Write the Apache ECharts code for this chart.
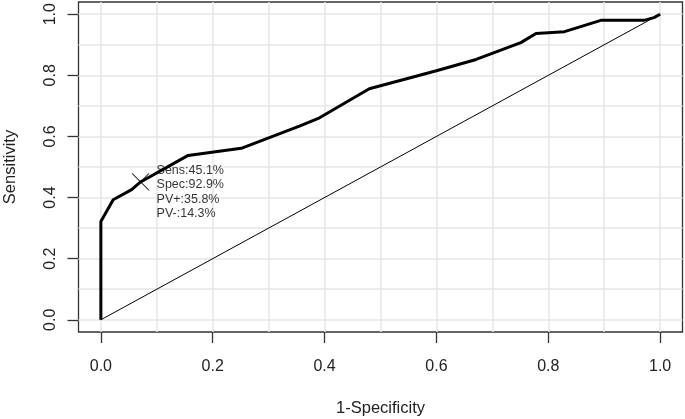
<!DOCTYPE html>
<html>
<head>
<meta charset="utf-8">
<script src="https://cdn.jsdelivr.net/npm/echarts@6/dist/echarts.min.js"></script>
<style>html,body{margin:0;padding:0;background:#fff}#c{width:685px;height:419px}</style>
</head>
<body>
<div id="c"></div>
<script>
// ROC curve points [1-Specificity, Sensitivity]
const rocFpr  = [0, 0, 0.022, 0.055, 0.071, 0.156, 0.251, 0.355, 0.391, 0.480, 0.600, 0.671, 0.751, 0.778, 0.829, 0.894, 0.971, 0.989, 1.0];
const rocSens = [0, 0.322, 0.393, 0.426, 0.451, 0.538, 0.561, 0.634, 0.661, 0.756, 0.815, 0.852, 0.907, 0.937, 0.943, 0.980, 0.980, 0.989, 1.0];
const diagX = [0, 1];
const diagY = [0, 1];
const cutoff = [0.071, 0.451];
const cutoffText = ['Sens:45.1%', 'Spec:92.9%', 'PV+:35.8%', 'PV-:14.3%'];
const tickValues = [0, 0.2, 0.4, 0.6, 0.8, 1.0];
const gridValues = [0, 0.1, 0.2, 0.3, 0.4, 0.5, 0.6, 0.7, 0.8, 0.9, 1.0];
const xTitle = '1-Specificity';
const yTitle = 'Sensitivity';

const font = 'Liberation Sans, Arial, Helvetica, sans-serif';
const axisCommon = {
  type: 'value', min: -0.04, max: 1.04,
  axisLine: { show: false, onZero: false },
  axisTick: { show: true, inside: false, length: 11, customValues: tickValues,
              lineStyle: { color: '#333', width: 1.3 } },
  axisLabel: { customValues: tickValues, formatter: v => v.toFixed(1),
               color: '#222', fontSize: 16, fontFamily: font },
  splitLine: { show: false },
  nameLocation: 'middle',
  nameTextStyle: { color: '#222', fontSize: 16.5, fontFamily: font }
};

const chart = echarts.init(document.getElementById('c'), null, { renderer: 'canvas' });
chart.setOption({
  animation: false,
  backgroundColor: '#fff',
  grid: { left: 78.5, right: 2.5, top: 2, bottom: 87, show: true,
          outerBoundsMode: 'none', containLabel: false,
          borderColor: '#333', borderWidth: 1.3, backgroundColor: 'transparent' },
  xAxis: Object.assign({}, axisCommon, {
    name: xTitle, nameGap: 68,
    axisLabel: Object.assign({}, axisCommon.axisLabel, { margin: 27 })
  }),
  yAxis: Object.assign({}, axisCommon, {
    name: yTitle, nameGap: 60, nameRotate: 90,
    axisLabel: Object.assign({}, axisCommon.axisLabel, { margin: 20, rotate: 90 })
  }),
  series: [
    {
      type: 'line', z: 1, silent: true, showSymbol: false,
      data: [[0, 0]], lineStyle: { opacity: 0 },
      markLine: {
        z: 1, silent: true, symbol: 'none', animation: false,
        label: { show: false },
        lineStyle: { color: '#e6e6e6', width: 1.5, type: 'solid' },
        data: gridValues.map(v => ({ xAxis: v })).concat(gridValues.map(v => ({ yAxis: v })))
      }
    },
    {
      type: 'line', z: 3, silent: true, showSymbol: false,
      data: diagX.map((x, i) => [x, diagY[i]]),
      lineStyle: { color: '#000', width: 1 }
    },
    {
      type: 'line', z: 4, silent: true, showSymbol: false,
      data: rocFpr.map((x, i) => [x, rocSens[i]]),
      lineStyle: { color: '#000', width: 3, join: 'round' }
    },
    {
      type: 'scatter', z: 5, silent: true,
      data: [cutoff],
      symbol: 'path://M0,0L10,10M10,0L0,10',
      symbolSize: 17,
      itemStyle: { color: 'none', borderColor: '#000', borderWidth: 1.1 },
      label: {
        show: true, position: 'right', distance: 5, offset: [0, 10],
        formatter: cutoffText.join('\n'),
        color: '#000', fontSize: 12.5, lineHeight: 14.3, fontFamily: font, align: 'left'
      }
    }
  ]
});
</script>
</body>
</html>
